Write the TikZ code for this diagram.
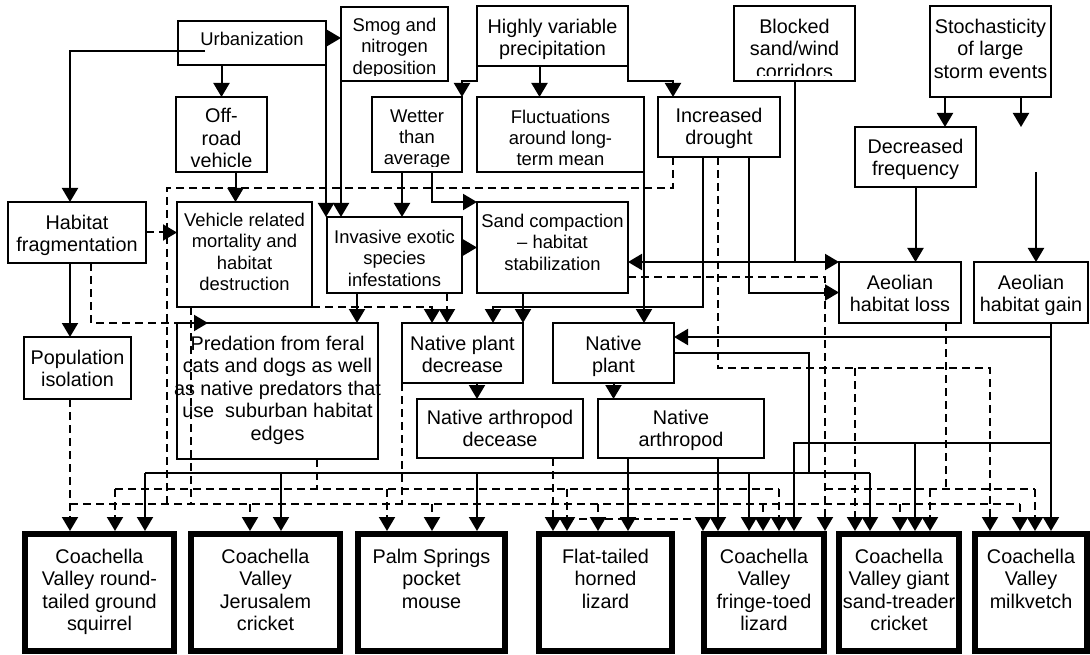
\documentclass[tikz,border=0pt]{standalone}
\usepackage{fontspec}
\setmainfont{Liberation Sans}
\usetikzlibrary{arrows.meta,calc}
\newcommand\myfsm{\fontsize{18.4pt}{21.3pt}\selectfont}
\newcommand\myfbg{\fontsize{19.8pt}{22.5pt}\selectfont}
% #1 box style, #2 text style, #3 name, #4 x1, #5 y1, #6 x2, #7 y2, #8 text top, #9 text
\newcommand\mybx[9]{%
  \node[#1, minimum width={#6-#4}, minimum height={#7-#5}] (#3) at ({(#4+#6)/2},{(#5+#7)/2}) {};
  \begin{scope}
    \clip ({#4-40},#5) rectangle ({#6+40},{#7-5});
    \node[#2, anchor=north] (#3-t) at ({(#4+#6)/2},#8) {#9};
  \end{scope}}
\begin{document}
\begin{tikzpicture}[x=1pt,y=-1pt,
  boxn/.style={draw, line width=2.2pt, outer sep=0pt, inner sep=0pt},
  boxsp/.style={draw, line width=6pt, outer sep=3pt, inner sep=0pt},
  txtsm/.style={inner sep=0pt, align=center, font=\myfsm},
  txtbg/.style={inner sep=0pt, align=center, font=\myfbg},
  cline/.style={line width=2pt},
  dline/.style={line width=2pt, dash pattern=on 8pt off 5pt},
  carr/.style={cline, -{Triangle[length=14pt,width=16pt]}},
  darr/.style={dline, -{Triangle[length=14pt,width=16pt]}}]
\fill[white] (0,0) rectangle (1090,655);
\useasboundingbox (0,0) rectangle (1090,655);

% ---------- boxes ----------
\mybx{boxn}{txtsm}{urb}{178}{21}{326}{65}{32}{Urbanization}
\mybx{boxn}{txtsm}{smog}{341}{7}{448}{81}{18}{Smog and\\nitrogen\\deposition}
\mybx{boxn}{txtbg}{hv}{477}{6}{628}{66}{18.5}{Highly variable\\precipitation}
\mybx{boxn}{txtbg}{blocked}{734}{6}{855}{81}{18.5}{Blocked\\sand/wind\\corridors}
\mybx{boxn}{txtbg}{stoch}{930}{6}{1051}{97}{18.5}{Stochasticity\\of large\\storm events}
\mybx{boxn}{txtbg}{offroad}{176}{97}{267}{172}{108}{Off-\\road\\vehicle}
\mybx{boxn}{txtsm}{wetter}{372}{97}{462}{172}{109.5}{Wetter\\than\\average}
\mybx{boxn}{txtsm}{fluct}{477}{97}{644}{172}{109.5}{Fluctuations\\around long-\\term mean}
\mybx{boxn}{txtbg}{drought}{658}{97}{780}{157}{107.5}{Increased\\drought}
\mybx{boxn}{txtbg}{decfreq}{855}{127}{976}{187}{138.5}{Decreased\\frequency}
\mybx{boxn}{txtbg}{habfrag}{8}{202}{146}{263}{214.5}{Habitat\\fragmentation}
\mybx{boxn}{txtsm}{vehicle}{177}{202}{312}{307}{213}{Vehicle related\\mortality and\\habitat\\destruction}
\mybx{boxn}{txtsm}{invasive}{327}{217}{462}{293}{230}{Invasive exotic\\species\\infestations}
\mybx{boxn}{txtsm}{sand}{477}{202}{628}{293}{214}{Sand compaction\\– habitat\\stabilization}
\mybx{boxn}{txtbg}{aloss}{839}{262}{961}{323}{274.5}{Aeolian\\habitat loss}
\mybx{boxn}{txtbg}{again}{974}{262}{1088}{323}{274.5}{Aeolian\\habitat gain}
\mybx{boxn}{txtbg}{popiso}{24}{337}{131}{399}{349.5}{Population\\isolation}
\mybx{boxn}{txtbg}{pred}{177}{323}{378}{459}{335.5}{Predation from feral\\cats and dogs as well\\as native predators that\\use\ \ suburban habitat\\edges}
\mybx{boxn}{txtbg}{npd}{402}{323}{523}{383}{335.5}{Native plant\\decrease}
\mybx{boxn}{txtbg}{nplant}{553}{323}{674}{383}{335.5}{Native\\plant}
\mybx{boxn}{txtbg}{nad}{417}{399}{583}{458}{409.5}{Native arthropod\\decease}
\mybx{boxn}{txtbg}{narth}{598}{399}{764}{458}{409.5}{Native\\arthropod}

\mybx{boxsp}{txtbg}{squirrel}{25}{534}{174}{651}{548.5}{Coachella\\Valley round-\\tailed ground\\squirrel}
\mybx{boxsp}{txtbg}{jeru}{191}{534}{340}{651}{548.5}{Coachella\\Valley\\Jerusalem\\cricket}
\mybx{boxsp}{txtbg}{psm}{358}{534}{505}{651}{548.5}{Palm Springs\\pocket\\mouse}
\mybx{boxsp}{txtbg}{fthl}{539}{534}{672}{651}{548.5}{Flat-tailed\\horned\\lizard}
\mybx{boxsp}{txtbg}{fringe}{704}{534}{824}{651}{548.5}{Coachella\\Valley\\fringe-toed\\lizard}
\mybx{boxsp}{txtbg}{gst}{839}{534}{959}{651}{548.5}{Coachella\\Valley giant\\sand-treader\\cricket}
\mybx{boxsp}{txtbg}{milk}{975}{534}{1087}{651}{548.5}{Coachella\\Valley\\milkvetch}

% ---------- helper coordinates ----------
\coordinate (yS) at (0,473);
\coordinate (yD1) at (0,489);
\coordinate (yD2) at (0,504);
\coordinate (yD3) at (0,519);
\coordinate (yA) at (0,443);
\coordinate (yDr) at (0,368);
\coordinate (yMid) at (0,307);
\coordinate (jn) at (809,473);
\coordinate (dlx) at (167,188);
\coordinate (gainsrc) at (1036,172);

\coordinate (sq1) at ([xshift=-29.5pt]squirrel.north);
\coordinate (sq2) at ([xshift=15.5pt]squirrel.north);
\coordinate (sq3) at ([xshift=45.5pt]squirrel.north);
\coordinate (je1) at ([xshift=-15.5pt]jeru.north);
\coordinate (je2) at ([xshift=15.5pt]jeru.north);
\coordinate (ps1) at ([xshift=-44.5pt]psm.north);
\coordinate (ps2) at ([xshift=0.5pt]psm.north);
\coordinate (ps3) at ([xshift=45.5pt]psm.north);
\coordinate (ft1) at ([xshift=-52.5pt]fthl.north);
\coordinate (ft2) at ([xshift=-38.5pt]fthl.north);
\coordinate (ft3) at ([xshift=-7.5pt]fthl.north);
\coordinate (ft4) at ([xshift=22.5pt]fthl.north);
\coordinate (fr1) at ([xshift=-61pt]fringe.north);
\coordinate (fr2) at ([xshift=-46pt]fringe.north);
\coordinate (fr3) at ([xshift=-15pt]fringe.north);
\coordinate (fr4) at ([xshift=-1pt]fringe.north);
\coordinate (fr5) at ([xshift=15pt]fringe.north);
\coordinate (fr6) at ([xshift=30pt]fringe.north);
\coordinate (fr7) at ([xshift=61pt]fringe.north);
\coordinate (gs1) at ([xshift=-44pt]gst.north);
\coordinate (gs2) at ([xshift=-29pt]gst.north);
\coordinate (gs3) at ([xshift=1pt]gst.north);
\coordinate (gs4) at ([xshift=16pt]gst.north);
\coordinate (gs5) at ([xshift=31pt]gst.north);
\coordinate (mk1) at ([xshift=-41pt]milk.north);
\coordinate (mk2) at ([xshift=-11pt]milk.north);
\coordinate (mk3) at ([xshift=4pt]milk.north);
\coordinate (npd3) at ([xshift=30.5pt]npd.north);

% ---------- solid connectors ----------
\draw[carr] (urb.south -| offroad.north) -- (offroad.north);
\draw[carr] ([xshift=27pt,yshift=-8pt]urb.west) -| ([xshift=-7pt]habfrag.north);
\draw[carr] ([yshift=5pt]urb.east) coordinate (u1) -- (u1 -| smog.west);
\draw[carr] (urb.south east) -- (urb.south east |- invasive.north);
\draw[carr] (smog.south west) -- (smog.south west |- invasive.north);
\draw[carr] (hv.south west) -- ++(0,15) -| (wetter.north east);
\draw[carr] ([xshift=-13pt]hv.south) coordinate (h1) -- (h1 |- fluct.north);
\draw[carr] (hv.south east) -- ++(0,15) -| ([xshift=-46pt]drought.north);
\draw[carr] ([xshift=-15pt]wetter.south) coordinate (w1) -- (w1 |- invasive.north);
\draw[carr] ([xshift=15pt]wetter.south) |- (sand.north west);
\draw[carr] (invasive.east |- sand.west) -- (sand.west);
\draw[carr] (fluct.south east) -- (fluct.south east |- nplant.north);
\draw[carr] ([xshift=-16pt]drought.south) |- (npd3 |- yMid) -- (npd3);
\draw[carr] (npd.north east |- sand.south) -- (npd.north east);
\draw[carr] ([xshift=-37.5pt]invasive.south) coordinate (i1) -- (i1 |- pred.north);
\draw[carr] ([xshift=30pt]drought.south) |- (aloss.west);
\draw[carr] (blocked.south) |- (aloss.north west);
\draw[carr] (blocked.south |- aloss.north) -- (sand.east |- aloss.north);
\draw[carr] (decfreq.south) -- (decfreq.south |- aloss.north);
\draw[carr] ([xshift=-45.5pt]stoch.south) coordinate (s1) -- (s1 |- decfreq.north);
\draw[carr] ([xshift=30.5pt]stoch.south) -- ++(0,30);
\draw[carr] (gainsrc) -- (gainsrc |- again.north);
\draw[carr] ([xshift=-7pt]habfrag.south) coordinate (hf1) -- (hf1 |- popiso.north);
\draw[carr] ([xshift=14pt]offroad.south) coordinate (o1) -- (o1 |- vehicle.north);
\draw[carr] ([xshift=14.5pt]npd.south) coordinate (n1) -- (n1 |- nad.north);
\draw[carr] (nplant.south) -- (nplant.south |- narth.north);
\draw[carr] ([xshift=20pt]again.south) coordinate (g1) -- (g1 |- milk.north);
\draw[carr] (g1) |- ([yshift=16pt]nplant.east);
\draw[carr] (g1 |- yA) -| (fr6);
\draw[carr] (gs4 |- yA) -- (gs4);
\draw[cline] (nplant.east) -| (jn);
\draw[cline] (sq3 |- jn) -- (gs2 |- jn);
\foreach \c in {sq3,je2,ps3,fr3,gs2} \draw[carr] (\c |- jn) -- (\c);
\draw[carr] (narth.south -| ft4) -- (ft4);
\draw[carr] (narth.south -| fr2) -- (fr2);

% ---------- dashed connectors ----------
\draw[darr] (habfrag.east) -- (vehicle.west |- habfrag.east);
\draw[darr] ([xshift=14pt]habfrag.south) |- ([xshift=31pt]pred.north west);
\draw[darr] (popiso.south -| sq1) -- (sq1);
\draw[dline] ([xshift=-46pt]drought.south) |- (dlx) -- (dlx |- yD2);
\draw[dline] ([xshift=14pt]vehicle.south west) coordinate (v1) -- (v1 |- yD2);
\draw[darr] (vehicle.south east) -| ([xshift=-30.5pt]npd.north);
\draw[darr] ([xshift=52.5pt]invasive.south) coordinate (i2) -- (i2 |- npd.north);
\draw[dline] (npd.south west) -- (npd.south west |- yD2);
\draw[dline] ([xshift=39.5pt]pred.south) coordinate (p1) -- (p1 |- yD1);
\draw[dline] ([xshift=46pt]aloss.south) coordinate (a1) -- (a1 |- yD1);
\draw[darr] ([yshift=-29.5pt]sand.east) -| (fr7);
\draw[darr] ([xshift=-1pt]drought.south) |- (mk1 |- yDr) -- (mk1);
\draw[darr] (gs1 |- yDr) -- (gs1);
\draw[darr] (nad.south -| ft1) -- (ft1);
\draw[darr] (ft1 |- yD3) -| (fr1);
\draw[dline] (sq2 |- yD1) -- (fr5 |- yD1);
\foreach \c in {sq2,ps1,ft2,fr5} \draw[darr] (\c |- yD1) -- (\c);
\draw[dline] (fr7 |- yD1) -- (mk3 |- yD1);
\foreach \c in {gs5,mk3} \draw[darr] (\c |- yD1) -- (\c);
\draw[dline] (sq1 |- yD2) -- (mk2 |- yD2);
\foreach \c in {je1,ps2,ft3,fr4,gs3,mk2} \draw[darr] (\c |- yD2) -- (\c);
\end{tikzpicture}
\end{document}
